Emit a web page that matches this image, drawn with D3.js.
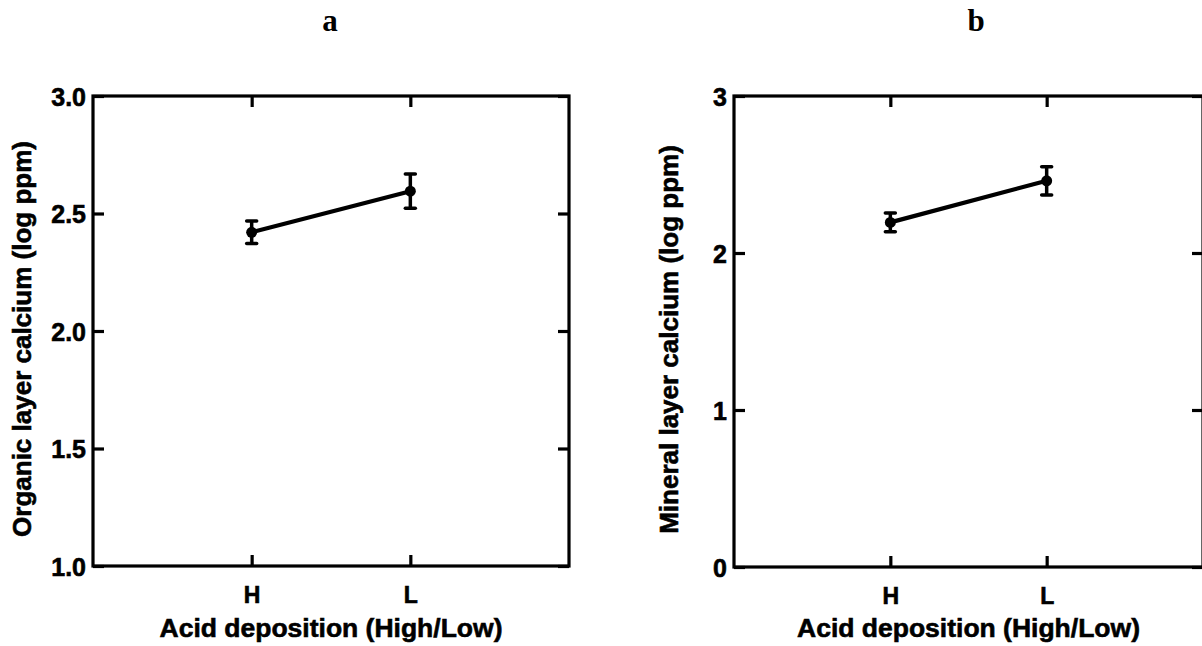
<!DOCTYPE html>
<html>
<head>
<meta charset="utf-8">
<script src="https://cdn.jsdelivr.net/npm/d3@7"></script>
<style>
  html, body { margin: 0; padding: 0; background: #fff; }
  svg { display: block; }
  text { font-family: "Liberation Sans", Arial, Helvetica, sans-serif; font-weight: bold; fill: #000; }
  .heavy { stroke: #000; stroke-width: 0.6px; }
  .panel-title { font-family: "Liberation Serif", "Times New Roman", serif; font-weight: bold; }
</style>
</head>
<body>
<svg id="chart" width="1202" height="646"></svg>
<script>
// Acid deposition levels on the x axis
const categories = ["H", "L"];

// Panel a: organic layer calcium (log ppm), mean and standard error
const organicMean = [2.42, 2.595];
const organicErr = [0.048, 0.073];
const organicTicks = [1.0, 1.5, 2.0, 2.5, 3.0];

// Panel b: mineral layer calcium (log ppm), mean and standard error
const mineralMean = [2.195, 2.46];
const mineralErr = [0.06, 0.09];
const mineralTicks = [0, 1, 2, 3];

const panelTitles = ["a", "b"];
const yTitles = ["Organic layer calcium (log ppm)", "Mineral layer calcium (log ppm)"];
const xTitle = "Acid deposition (High/Low)";

const svg = d3.select("#chart");

const panels = [
  { title: panelTitles[0], yTitle: yTitles[0], mean: organicMean, err: organicErr,
    ticks: organicTicks, domain: [1, 3], fmt: d3.format(".1f"),
    left: 93, right: 569, top: 96, bottom: 566, yTitleX: 22, titleX: 330 },
  { title: panelTitles[1], yTitle: yTitles[1], mean: mineralMean, err: mineralErr,
    ticks: mineralTicks, domain: [0, 3], fmt: d3.format("d"),
    left: 734, right: 1203, top: 96, bottom: 567, yTitleX: 669, titleX: 976 }
];

panels.forEach(p => {
  const g = svg.append("g");

  // categories sit at one-third and two-thirds of the frame width
  const x = d3.scalePoint().domain(categories).range([p.left, p.right]).padding(1);
  const y = d3.scaleLinear().domain(p.domain).range([p.bottom, p.top]);

  const tickLen = 11;

  // frame
  g.append("rect")
    .attr("x", p.left).attr("y", p.top)
    .attr("width", p.right - p.left).attr("height", p.bottom - p.top)
    .attr("fill", "none").attr("stroke", "#000").attr("stroke-width", 3.2);

  // left axis: inward ticks with labels
  const yAxisL = d3.axisLeft(y).tickValues(p.ticks).tickFormat(p.fmt)
    .tickSizeInner(-tickLen).tickSizeOuter(0).tickPadding(7);
  const gl = g.append("g").attr("transform", `translate(${p.left},0)`).call(yAxisL);

  // right axis: inward ticks, no labels
  const yAxisR = d3.axisRight(y).tickValues(p.ticks).tickFormat("")
    .tickSizeInner(-tickLen).tickSizeOuter(0);
  const gr = g.append("g").attr("transform", `translate(${p.right},0)`).call(yAxisR);

  // bottom axis: inward ticks with category labels
  const xAxisB = d3.axisBottom(x).tickSizeInner(-tickLen).tickSizeOuter(0).tickPadding(21);
  const gb = g.append("g").attr("transform", `translate(0,${p.bottom})`).call(xAxisB);

  // top axis: inward ticks, no labels
  const xAxisT = d3.axisTop(x).tickFormat("").tickSizeInner(-tickLen).tickSizeOuter(0);
  const gt = g.append("g").attr("transform", `translate(0,${p.top})`).call(xAxisT);

  [gl, gr, gb, gt].forEach(ax => {
    ax.select(".domain").remove();
    ax.selectAll(".tick line").attr("stroke", "#000").attr("stroke-width", 3.2);
    ax.selectAll(".tick text").attr("fill", "#000").attr("class", "heavy")
      .style("font-family", '"Liberation Sans", Arial, sans-serif')
      .style("font-weight", "bold");
  });
  gl.selectAll(".tick text").style("font-size", "25px").attr("dy", "0.36em");
  gb.selectAll(".tick text").style("font-size", "23px");

  // connecting line between means
  const line = d3.line().x((d, i) => x(categories[i])).y(d => y(d));
  g.append("path").datum(p.mean)
    .attr("d", line)
    .attr("fill", "none").attr("stroke", "#000").attr("stroke-width", 4.2)
    .attr("stroke-linecap", "round");

  // error bars with caps
  const capW = 5;
  const eb = g.selectAll(".err").data(p.mean).enter().append("g");
  eb.append("line")
    .attr("x1", (d, i) => x(categories[i])).attr("x2", (d, i) => x(categories[i]))
    .attr("y1", (d, i) => y(d - p.err[i])).attr("y2", (d, i) => y(d + p.err[i]))
    .attr("stroke", "#000").attr("stroke-width", 3.5);
  [-1, 1].forEach(s => {
    eb.append("line")
      .attr("x1", (d, i) => x(categories[i]) - capW).attr("x2", (d, i) => x(categories[i]) + capW)
      .attr("y1", (d, i) => y(d + s * p.err[i])).attr("y2", (d, i) => y(d + s * p.err[i]))
      .attr("stroke", "#000").attr("stroke-width", 3.5).attr("stroke-linecap", "round");
  });

  // mean markers
  g.selectAll(".pt").data(p.mean).enter().append("circle")
    .attr("cx", (d, i) => x(categories[i])).attr("cy", d => y(d))
    .attr("r", 5.5).attr("fill", "#000");

  // axis titles
  g.append("text").attr("class", "heavy")
    .attr("x", (p.left + p.right) / 2).attr("y", 637)
    .attr("text-anchor", "middle").style("font-size", "26.5px")
    .text(xTitle);

  g.append("text").attr("class", "heavy")
    .attr("transform", `translate(${p.yTitleX},${(p.top + p.bottom) / 2 + 8}) rotate(-90)`)
    .attr("text-anchor", "middle").attr("dy", "0.35em").style("font-size", "26px")
    .text(p.yTitle);

  // panel letter
  g.append("text").attr("class", "panel-title")
    .attr("x", p.titleX).attr("y", 31)
    .attr("text-anchor", "middle").style("font-size", "31px")
    .text(p.title);
});
</script>
</body>
</html>
